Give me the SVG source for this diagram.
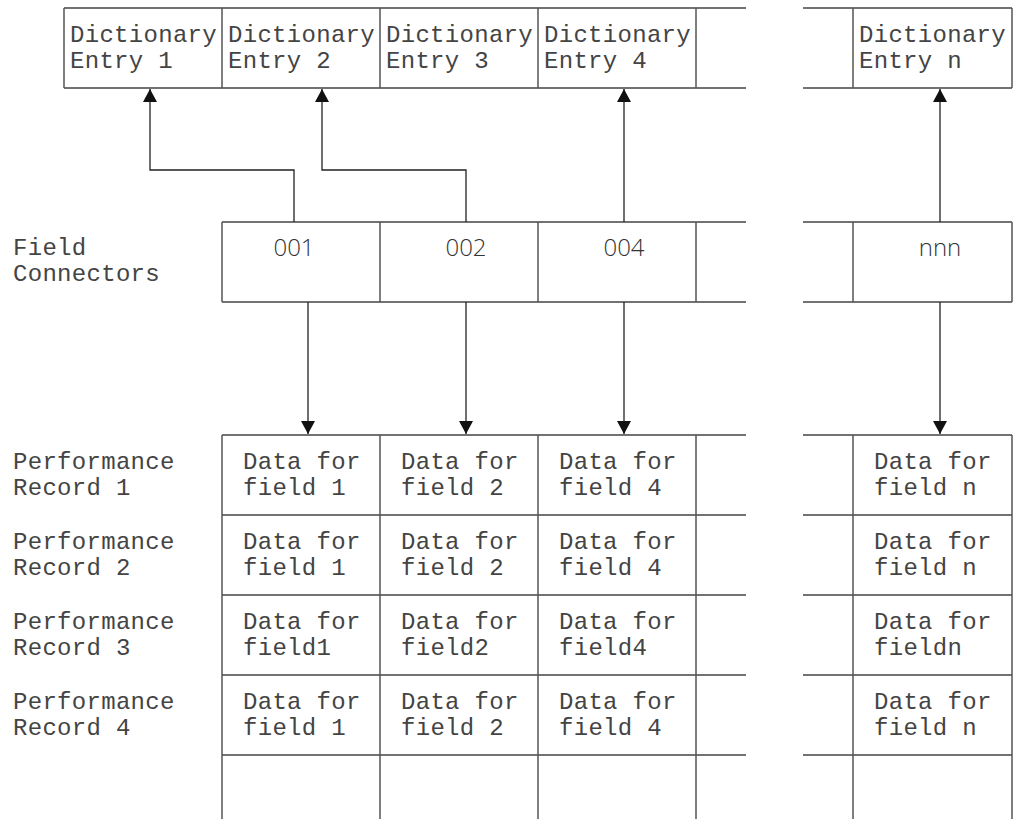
<svg xmlns="http://www.w3.org/2000/svg" width="1013" height="819" viewBox="0 0 1013 819">
<style>
.g{stroke:#555;stroke-width:1.5;fill:none}
.h{stroke:#444;stroke-width:1.5;fill:none}
.c{stroke:#222;stroke-width:1.3;fill:none}
.m{font-family:"Liberation Mono","DejaVu Sans Mono",monospace;font-size:24px;letter-spacing:0.3px;fill:#444}
.n{font-family:"Open Sans","Liberation Sans",sans-serif;font-weight:300;font-size:24px;fill:#333;text-anchor:middle}
</style>
<defs>
<marker id="ah" markerUnits="userSpaceOnUse" markerWidth="16" markerHeight="14" refX="13" refY="7" orient="auto">
<path d="M0,0 L13,7 L0,14 Z" fill="#111"/>
</marker>
</defs>
<rect width="1013" height="819" fill="#fff"/>

<g id="grid">
<path class="h" d="M64 8H746M803 8H1012M64 88H746M803 88H1012"/>
<path class="g" d="M64 8V88M222 8V88M380 8V88M538 8V88M696 8V88M853 8V88M1012 8V88"/>
<path class="h" d="M222 222H746M803 222H1012M222 302H746M803 302H1012"/>
<path class="g" d="M222 222V302M380 222V302M538 222V302M696 222V302M853 222V302M1012 222V302"/>
<path class="h" d="M222 435H746M803 435H1012M222 515H746M803 515H1012M222 595H746M803 595H1012M222 675H746M803 675H1012M222 755H746M803 755H1012"/>
<path class="g" d="M222 435V819M380 435V819M538 435V819M696 435V819M853 435V819M1012 435V819"/>
</g>

<g id="dict1"><text class="m" x="70" y="42">Dictionary</text><text class="m" x="70" y="68">Entry 1</text></g>
<g id="dict2"><text class="m" x="228" y="42">Dictionary</text><text class="m" x="228" y="68">Entry 2</text></g>
<g id="dict3"><text class="m" x="386" y="42">Dictionary</text><text class="m" x="386" y="68">Entry 3</text></g>
<g id="dict4"><text class="m" x="544" y="42">Dictionary</text><text class="m" x="544" y="68">Entry 4</text></g>
<g id="dictn"><text class="m" x="859" y="42">Dictionary</text><text class="m" x="859" y="68">Entry n</text></g>

<g id="label-fc"><text class="m" x="13" y="255">Field</text><text class="m" x="13" y="281">Connectors</text></g>
<g id="fc001"><text class="n" x="294" y="256">001</text></g>
<g id="fc002"><text class="n" x="466" y="256">002</text></g>
<g id="fc004"><text class="n" x="624" y="256">004</text></g>
<g id="fcnnn"><text class="n" x="940" y="256">nnn</text></g>

<g id="label-pr1"><text class="m" x="13" y="469">Performance</text><text class="m" x="13" y="495">Record 1</text></g>
<g id="label-pr2"><text class="m" x="13" y="549">Performance</text><text class="m" x="13" y="575">Record 2</text></g>
<g id="label-pr3"><text class="m" x="13" y="629">Performance</text><text class="m" x="13" y="655">Record 3</text></g>
<g id="label-pr4"><text class="m" x="13" y="709">Performance</text><text class="m" x="13" y="735">Record 4</text></g>

<g id="rec1">
<text class="m" x="243" y="469">Data for</text><text class="m" x="243" y="495">field 1</text>
<text class="m" x="401" y="469">Data for</text><text class="m" x="401" y="495">field 2</text>
<text class="m" x="559" y="469">Data for</text><text class="m" x="559" y="495">field 4</text>
<text class="m" x="874" y="469">Data for</text><text class="m" x="874" y="495">field n</text>
</g>
<g id="rec2">
<text class="m" x="243" y="549">Data for</text><text class="m" x="243" y="575">field 1</text>
<text class="m" x="401" y="549">Data for</text><text class="m" x="401" y="575">field 2</text>
<text class="m" x="559" y="549">Data for</text><text class="m" x="559" y="575">field 4</text>
<text class="m" x="874" y="549">Data for</text><text class="m" x="874" y="575">field n</text>
</g>
<g id="rec3">
<text class="m" x="243" y="629">Data for</text><text class="m" x="243" y="655">field1</text>
<text class="m" x="401" y="629">Data for</text><text class="m" x="401" y="655">field2</text>
<text class="m" x="559" y="629">Data for</text><text class="m" x="559" y="655">field4</text>
<text class="m" x="874" y="629">Data for</text><text class="m" x="874" y="655">fieldn</text>
</g>
<g id="rec4">
<text class="m" x="243" y="709">Data for</text><text class="m" x="243" y="735">field 1</text>
<text class="m" x="401" y="709">Data for</text><text class="m" x="401" y="735">field 2</text>
<text class="m" x="559" y="709">Data for</text><text class="m" x="559" y="735">field 4</text>
<text class="m" x="874" y="709">Data for</text><text class="m" x="874" y="735">field n</text>
</g>

<g id="connectors">
<path class="c" d="M294 222V170H150V89" marker-end="url(#ah)"/>
<path class="c" d="M466 222V170H322V89" marker-end="url(#ah)"/>
<path class="c" d="M624 222V89" marker-end="url(#ah)"/>
<path class="c" d="M940 222V89" marker-end="url(#ah)"/>
<path class="c" d="M308 302V434" marker-end="url(#ah)"/>
<path class="c" d="M466 302V434" marker-end="url(#ah)"/>
<path class="c" d="M624 302V434" marker-end="url(#ah)"/>
<path class="c" d="M940 302V434" marker-end="url(#ah)"/>
</g>
</svg>
